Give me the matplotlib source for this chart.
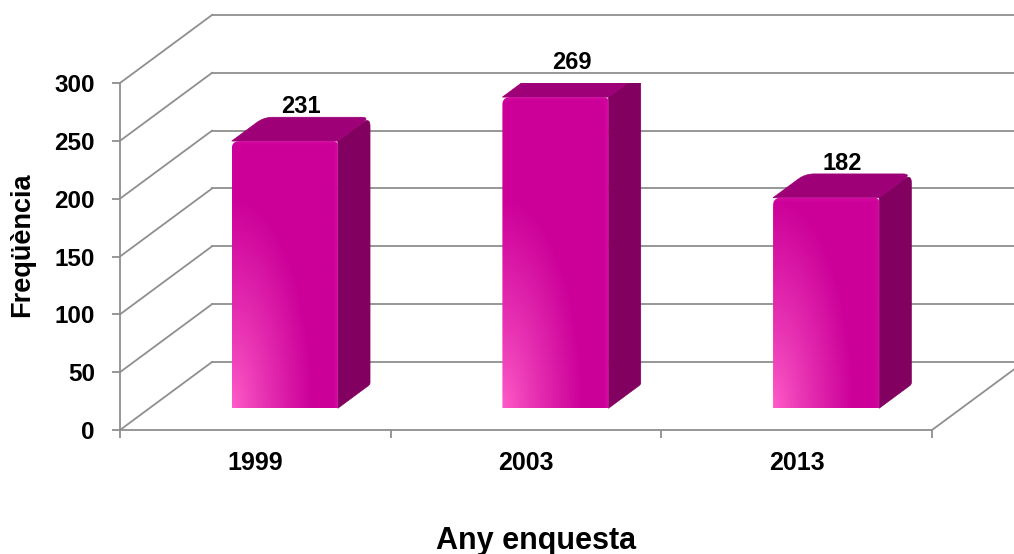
import numpy as np
import matplotlib
matplotlib.use("Agg")
import matplotlib.pyplot as plt
from matplotlib.patches import Polygon
from matplotlib.colors import to_rgb

# Survey years and counts
years = ["1999", "2003", "2013"]
counts = [231, 269, 182]
yticks = [0, 50, 100, 150, 200, 250, 300]

plt.rcParams["font.family"] = ["Liberation Sans", "DejaVu Sans"]
plt.rcParams["font.weight"] = "bold"

W, H = 1014, 554
fig = plt.figure(figsize=(W / 100, H / 100), dpi=100)
# front plane of the 3-D box
ax_l, ax_b, ax_w, ax_h = 120, 124, 812, 347  # pixels
ax = fig.add_axes([ax_l / W, ax_b / H, ax_w / W, ax_h / H])
ax.set_xlim(-0.5, 2.5)
ax.set_ylim(0, 300)

# pixels per data unit
px_x = ax_w / 3.0
px_y = ax_h / 300.0

# oblique depth: full depth of the box in data units
DX = 92 / px_x
DY = 68 / px_y


def proj(x, v, d):
    return x + d * DX, v + d * DY


def rounded(pts, radii, n=10):
    """Polygon (data coords) with corners rounded by radii given in pixels."""
    p = np.array([[x * px_x, y * px_y] for x, y in pts])
    out = []
    N = len(p)
    for k in range(N):
        r = radii[k]
        c = p[k]
        if r <= 0:
            out.append(c)
            continue
        u = p[k - 1] - c
        w = p[(k + 1) % N] - c
        a = c + u / np.hypot(*u) * min(r, np.hypot(*u) / 2)
        b = c + w / np.hypot(*w) * min(r, np.hypot(*w) / 2)
        for t in np.linspace(0, 1, n):
            out.append((1 - t) ** 2 * a + 2 * (1 - t) * t * c + t ** 2 * b)
    out = np.array(out)
    out[:, 0] /= px_x
    out[:, 1] /= px_y
    return out


grid_c = "#8f8f8f"
grid_lw = 1.3

# back wall gridlines and side wall diagonals
for v in yticks:
    x0, y0 = proj(-0.5, v, 1)
    x1, y1 = proj(2.9, v, 1)
    ax.plot([x0, x1], [y0, y1], color=grid_c, lw=grid_lw, clip_on=False, zorder=1)
    ax.plot([-0.5, x0], [v, y0], color=grid_c, lw=grid_lw, clip_on=False, zorder=1)

# floor right edge
xr, yr = proj(2.5, 0, 1)
ax.plot([2.5, xr], [0, yr], color=grid_c, lw=grid_lw, clip_on=False, zorder=1)

# bars
d_front, d_back = 0.32, 0.67
half = 0.196
c_front = np.array(to_rgb("#cc0099"))
c_light = np.array(to_rgb("#ff5ec9"))
c_top = "#9d0077"
c_side = "#82005f"

for i, v in enumerate(counts):
    fx0, fy0 = proj(i - half, 0, d_front)
    fx1, _ = proj(i + half, 0, d_front)
    fy1 = v + d_front * DY
    bx0, by0 = proj(i - half, 0, d_back)
    bx1, _ = proj(i + half, 0, d_back)
    by1 = v + d_back * DY

    side = Polygon(rounded([[fx1, fy0], [fx1, fy1], [bx1, by1], [bx1, by0]],
                           [0, 0, 9, 2]),
                   closed=True, fc=c_side, ec=c_side, lw=0.5, zorder=3)
    top = Polygon(rounded([[fx0, fy1], [fx1, fy1], [bx1, by1], [bx0, by1]],
                          [0, 0, 9, 9]),
                  closed=True, fc=c_top, ec=c_top, lw=0.5, zorder=3)
    ax.add_patch(side)
    ax.add_patch(top)

    # front face with a soft light glow from the lower-left corner
    front = Polygon(rounded([[fx0, fy0], [fx1, fy0], [fx1, fy1], [fx0, fy1]],
                            [0, 0, 5, 8]),
                    closed=True, fc="none", ec="none", transform=ax.transData)
    wpx = (fx1 - fx0) * px_x
    hpx = (fy1 - fy0) * px_y
    nx, ny = int(wpx), int(hpx)
    gx = np.linspace(0, wpx, nx)[None, :]
    gy = np.linspace(hpx, 0, ny)[:, None]
    r = np.sqrt((gx / 80.0) ** 2 + (gy / 210.0) ** 2)
    t = np.clip(r, 0, 1) ** 0.85
    img = c_light[None, None, :] * (1 - t[..., None]) + c_front[None, None, :] * t[..., None]
    # faint bevel highlight along the top and right edges
    bevel = np.clip(1 - np.minimum(hpx - gy, wpx - gx) / 5.0, 0, 1)
    hl = np.array(to_rgb("#ff40d0"))
    img = img * (1 - 0.18 * bevel[..., None]) + hl[None, None, :] * 0.18 * bevel[..., None]
    im = ax.imshow(img, extent=[fx0, fx1, fy0, fy1], aspect="auto",
                   interpolation="bilinear", zorder=4)
    im.set_clip_path(front)

    # value label just above the back edge of the top face
    lx, _ = proj(i, v, (d_front + d_back) / 2)
    ax.annotate(str(v), xy=(lx, by1),
                xytext=(0, 3), textcoords="offset points",
                ha="center", va="baseline", fontsize=17, fontweight="bold",
                annotation_clip=False, zorder=6)

# re-impose limits (imshow may change them)
ax.set_xlim(-0.5, 2.5)
ax.set_ylim(0, 300)

# axes styling
for s in ["top", "right"]:
    ax.spines[s].set_visible(False)
for s in ["left", "bottom"]:
    ax.spines[s].set_color(grid_c)
    ax.spines[s].set_linewidth(grid_lw)
ax.set_facecolor("none")

ax.set_yticks(yticks)
ax.set_yticklabels([str(t) for t in yticks], fontsize=17.5, fontweight="bold")
ax.tick_params(axis="y", direction="out", length=6, width=grid_lw, color=grid_c, pad=12)

ax.set_xticks(range(len(years)))
ax.set_xticklabels(years, fontsize=18, fontweight="bold")
ax.tick_params(axis="x", which="major", length=0, pad=15)
ax.set_xticks([-0.5, 0.5, 1.5, 2.5], minor=True)
ax.tick_params(axis="x", which="minor", direction="out", length=6, width=grid_lw, color=grid_c)

ax.set_ylabel("Freqüència", fontsize=19.5, fontweight="bold")
ax.yaxis.set_label_coords((22 - ax_l) / ax_w, (430 - 245) / ax_h)
ax.yaxis.label.set_va("center")
ax.set_xlabel("Any enquesta", fontsize=22, fontweight="bold")
ax.xaxis.set_label_coords((536 - ax_l) / ax_w, (430 - 541) / ax_h)
ax.xaxis.label.set_va("center")

fig.savefig("out.png", dpi=100)
